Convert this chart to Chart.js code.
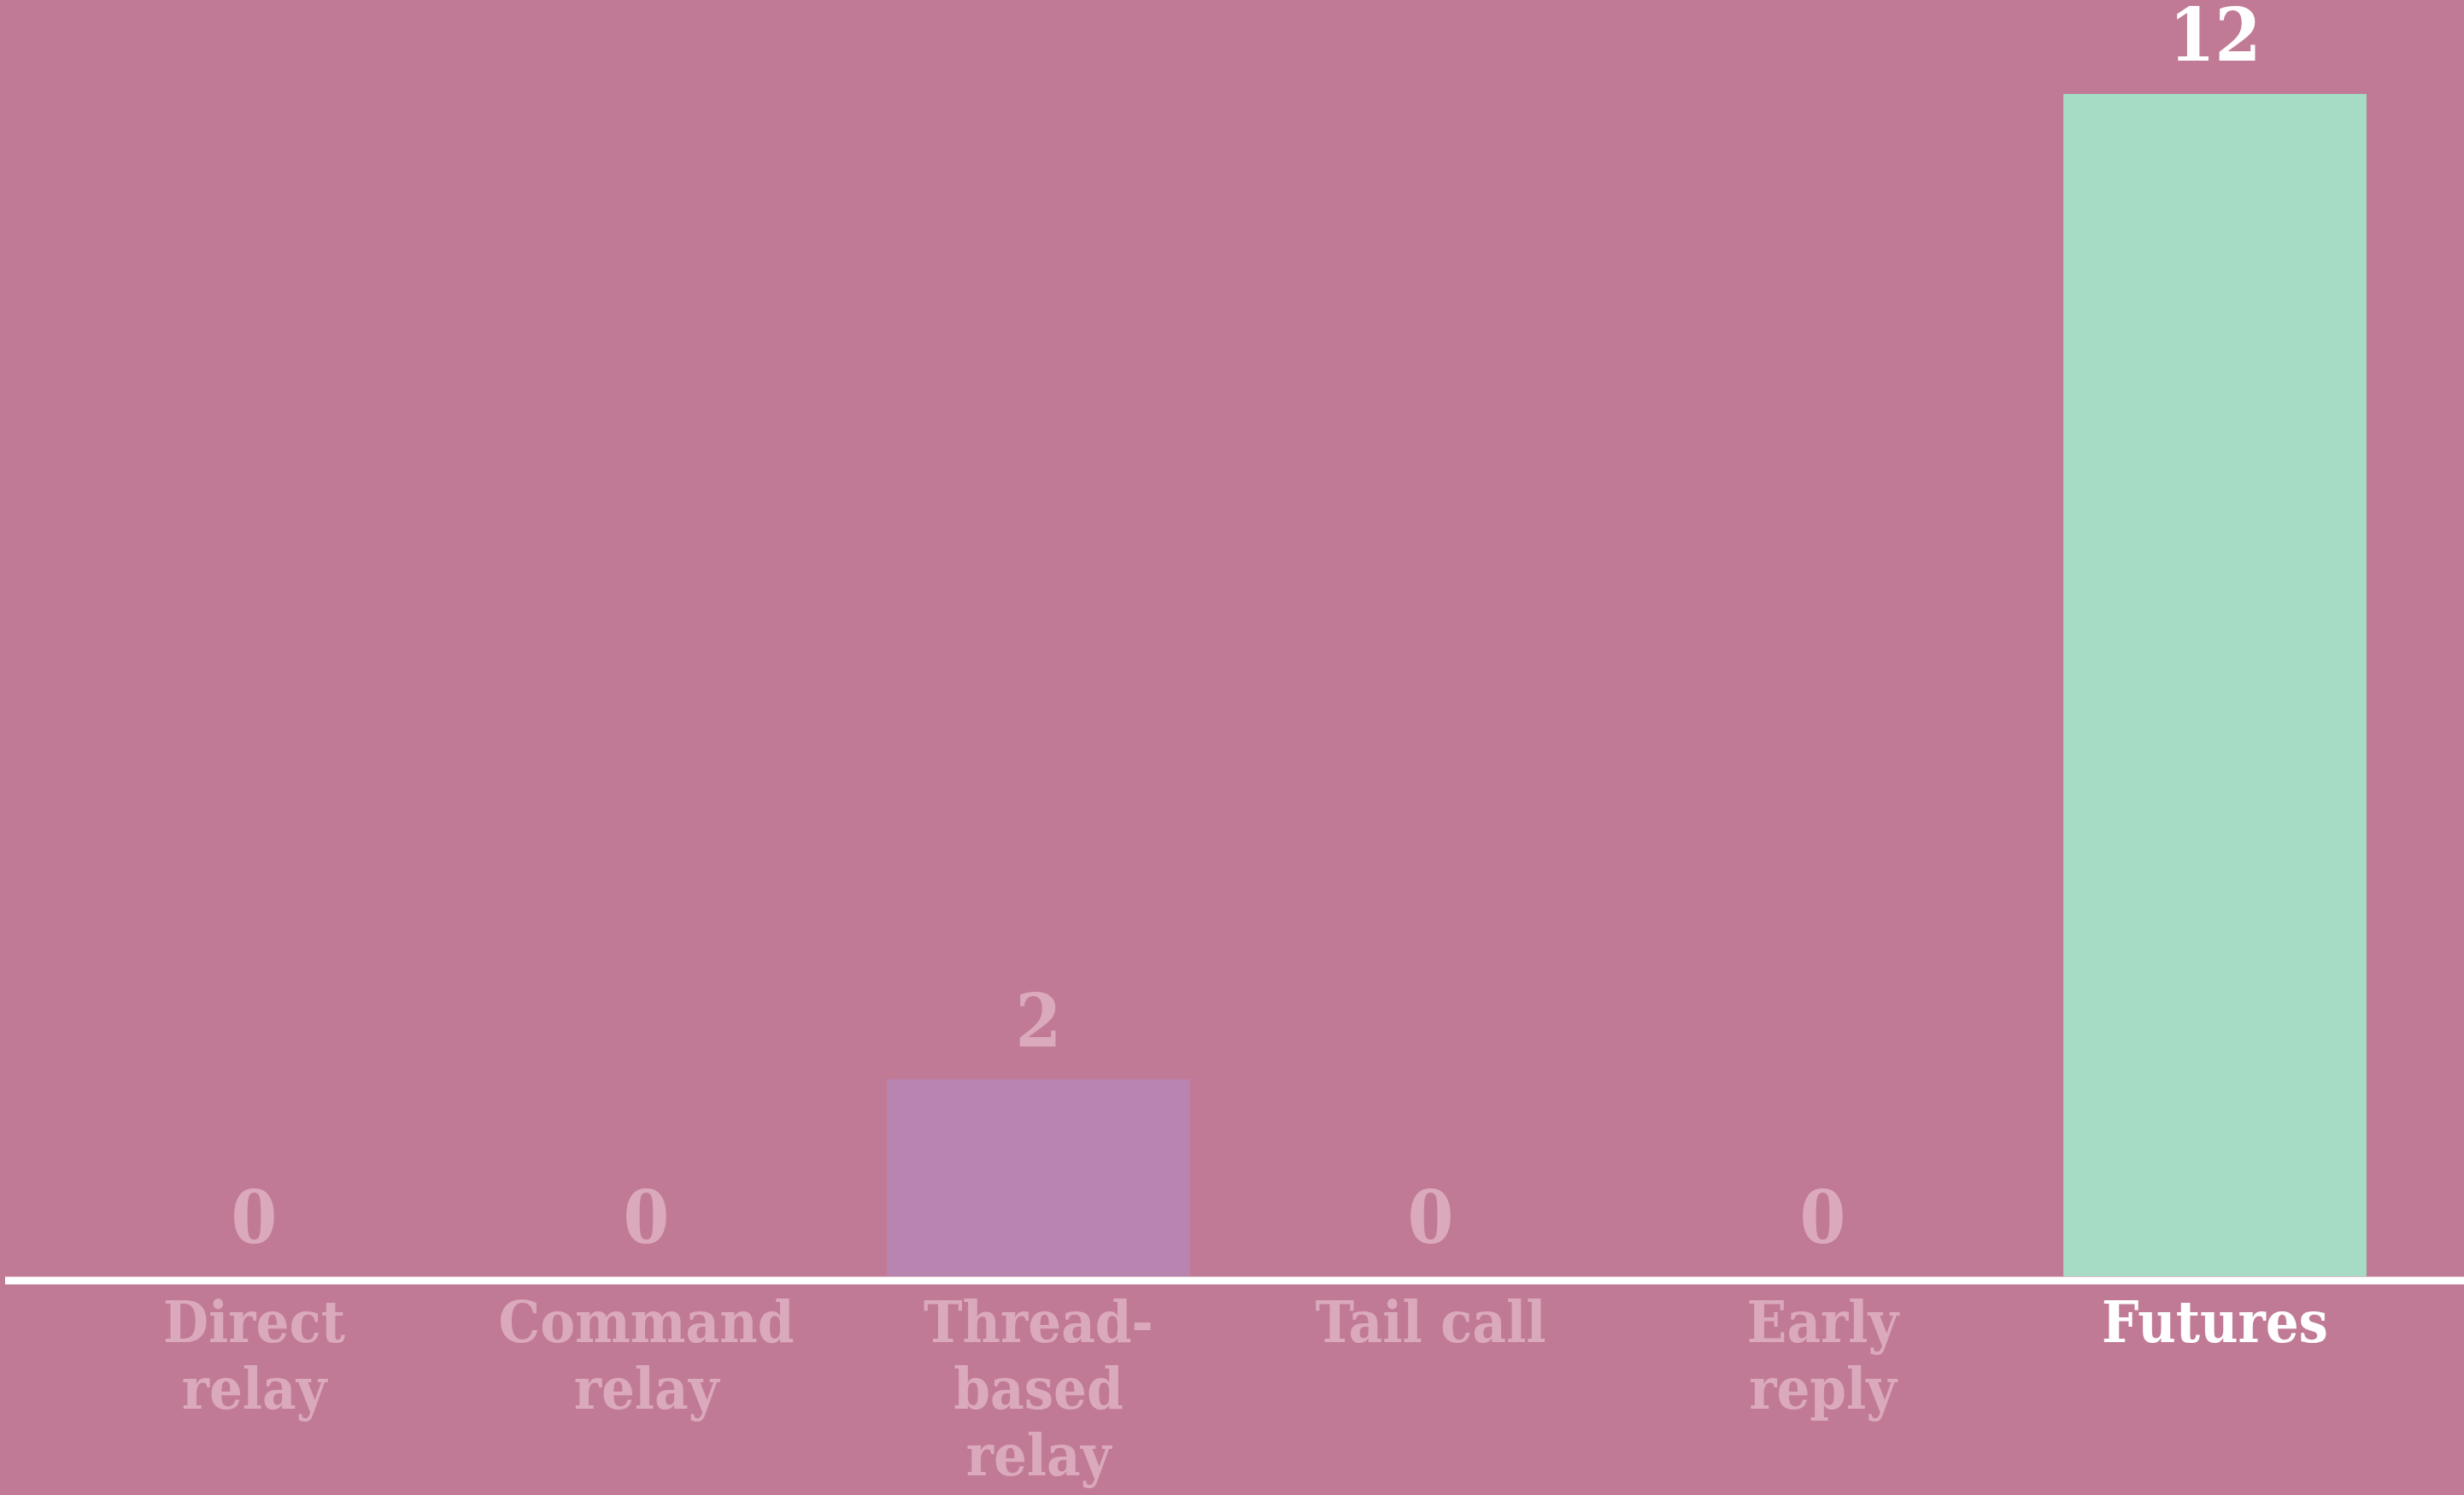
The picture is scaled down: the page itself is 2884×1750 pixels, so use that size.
<!DOCTYPE html>
<html>
<head>
<meta charset="utf-8">
<script src="https://cdn.jsdelivr.net/npm/chart.js@4.4.1/dist/chart.umd.min.js"></script>
<style>
  html, body { margin: 0; padding: 0; background: #c17a95; }
  #wrap { width: 2884px; height: 1750px; }
</style>
</head>
<body>
<div id="wrap"><canvas id="chart"></canvas></div>
<script>
// chart data
const categories = [['Direct', 'relay'], ['Command', 'relay'], ['Thread-', 'based', 'relay'], 'Tail call', ['Early', 'reply'], 'Futures'];
const counts = [0, 0, 2, 0, 0, 12];
const barColors = ['#b884b0', '#b884b0', '#b884b0', '#b884b0', '#b884b0', '#a6dcc5'];
const labelColors = ['#dba9bc', '#dba9bc', '#dba9bc', '#dba9bc', '#dba9bc', '#ffffff'];
const yMax = 12;

const FONT = '"DejaVu Serif Condensed", "DejaVu Serif", serif';

// white baseline across the whole width
const baselinePlugin = {
    id: 'baseline',
    afterDatasetsDraw(chart) {
        const ctx = chart.ctx;
        const y = chart.scales.y.getPixelForValue(0) + 5;
        ctx.save();
        ctx.strokeStyle = '#ffffff';
        ctx.lineWidth = 9;
        ctx.beginPath();
        ctx.moveTo(6, y);
        ctx.lineTo(chart.width, y);
        ctx.stroke();
        ctx.restore();
    }
};

// value numbers above each bar
const valueLabels = {
    id: 'valueLabels',
    afterDatasetsDraw(chart) {
        const ctx = chart.ctx;
        const meta = chart.getDatasetMeta(0);
        ctx.save();
        ctx.font = 'bold 86px ' + FONT;
        ctx.textAlign = 'center';
        ctx.textBaseline = 'middle';
        meta.data.forEach((bar, i) => {
            ctx.fillStyle = labelColors[i];
            ctx.fillText(String(counts[i]), bar.x, bar.y - 61);
        });
        ctx.restore();
    }
};

new Chart(document.getElementById('chart'), {
    type: 'bar',
    data: {
        labels: categories,
        datasets: [{
            data: counts,
            backgroundColor: barColors,
            borderWidth: 0,
            barPercentage: 0.773,
            categoryPercentage: 1
        }]
    },
    options: {
        responsive: true,
        maintainAspectRatio: false,
        animation: false,
        layout: { padding: { top: 110, left: 68, right: 62, bottom: 0 } },
        plugins: {
            legend: { display: false },
            tooltip: { enabled: false }
        },
        scales: {
            x: {
                grid: { display: false, drawTicks: false },
                border: { display: false },
                afterFit(scale) { scale.height = 256; },
                ticks: {
                    padding: 20,
                    maxRotation: 0,
                    autoSkip: false,
                    color: labelColors,
                    font: { family: FONT, size: 68, weight: 'bold', lineHeight: 1.15 }
                }
            },
            y: {
                display: false,
                min: 0,
                max: yMax
            }
        }
    },
    plugins: [baselinePlugin, valueLabels]
});
</script>
</body>
</html>
